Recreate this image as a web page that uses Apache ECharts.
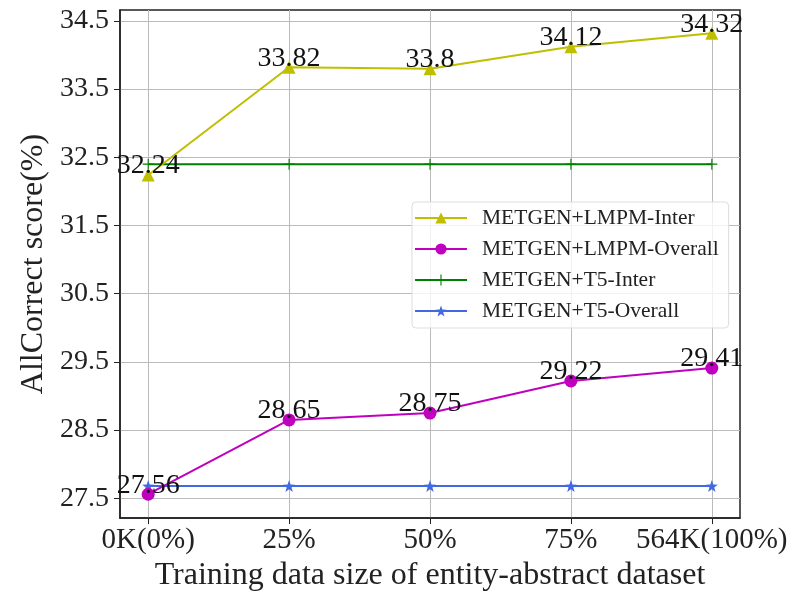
<!DOCTYPE html>
<html>
<head>
<meta charset="utf-8">
<script src="https://cdn.jsdelivr.net/npm/echarts@6/dist/echarts.min.js"></script>
<style>
  html, body { margin: 0; padding: 0; background: #fff; }
  #chart { width: 792px; height: 597px; }
</style>
</head>
<body>
<div id="chart"></div>
<script>
// 数据
var categories = ['0K(0%)', '25%', '50%', '75%', '564K(100%)'];
var lmpmInter = [32.24, 33.82, 33.8, 34.12, 34.32];
var lmpmOverall = [27.56, 28.65, 28.75, 29.22, 29.41];
var t5Inter = [32.4, 32.4, 32.4, 32.4, 32.4];
var t5Overall = [27.68, 27.68, 27.68, 27.68, 27.68];
var yTicks = [27.5, 28.5, 29.5, 30.5, 31.5, 32.5, 33.5, 34.5];

var FONT = '"Liberation Serif", "DejaVu Serif", serif';
var STAR = 'path://M0,-10 L2.35,-3.24 L9.51,-3.09 L3.8,1.24 L5.88,8.09 L0,4 L-5.88,8.09 L-3.8,1.24 L-9.51,-3.09 L-2.35,-3.24 Z';
var PLUS = 'path://M-1,-10 L1,-10 L1,-1 L10,-1 L10,1 L1,1 L1,10 L-1,10 L-1,1 L-10,1 L-10,-1 L-1,-1 Z';

function pairs(arr) {
  return arr.map(function (v, i) { return [i, v]; });
}

var myChart = echarts.init(document.getElementById('chart'));

var valueLabel = {
  show: true,
  position: 'inside',
  offset: [0, -9],
  color: '#111',
  fontFamily: FONT,
  fontSize: 28,
  formatter: function (p) { return String(p.value[1]); }
};

option = {
  animation: false,
  grid: {
    left: 120, right: 52, top: 10, bottom: 77,
    show: true, borderColor: '#222', borderWidth: 1.5
  },
  legend: {
    orient: 'vertical',
    left: 412, top: 202,
    padding: [5, 10, 6, 2],
    itemWidth: 52, itemHeight: 14, itemGap: 9,
    backgroundColor: 'rgba(255,255,255,0.8)',
    borderColor: '#ddd', borderWidth: 1, borderRadius: 4,
    textStyle: { fontFamily: FONT, fontSize: 21.5, lineHeight: 22, color: '#222', padding: [0, 0, 0, 10] },
    data: ['METGEN+LMPM-Inter', 'METGEN+LMPM-Overall', 'METGEN+T5-Inter', 'METGEN+T5-Overall']
  },
  xAxis: {
    type: 'value',
    min: -0.2, max: 4.2,
    name: 'Training data size of entity-abstract dataset',
    nameLocation: 'middle', nameGap: 39,
    nameTextStyle: { fontFamily: FONT, fontSize: 32, color: '#222' },
    axisLine: { show: true, onZero: false, lineStyle: { color: '#222', width: 1.5 } },
    axisTick: { show: true, length: 6, customValues: [0, 1, 2, 3, 4], lineStyle: { color: '#222' } },
    axisLabel: {
      customValues: [0, 1, 2, 3, 4],
      fontFamily: FONT, fontSize: 29, color: '#222', margin: 8,
      formatter: function (v) { return categories[Math.round(v)]; }
    },
    splitLine: { show: true, lineStyle: { color: '#bbb', width: 1 } }
  },
  yAxis: {
    type: 'value',
    min: 27.21, max: 34.66,
    name: 'AllCorrect score(%)',
    nameLocation: 'middle', nameGap: 68,
    nameTextStyle: { fontFamily: FONT, fontSize: 32, color: '#222' },
    axisLine: { show: true, onZero: false, lineStyle: { color: '#222', width: 1.5 } },
    axisTick: { show: true, length: 6, customValues: yTicks, lineStyle: { color: '#222' } },
    axisLabel: {
      customValues: yTicks,
      fontFamily: FONT, fontSize: 28, color: '#222', margin: 11,
      formatter: function (v) { return v.toFixed(1); }
    },
    splitLine: { show: true, lineStyle: { color: '#bbb', width: 1 } }
  },
  series: [
    {
      name: 'METGEN+LMPM-Inter', type: 'line',
      data: pairs(lmpmInter),
      symbol: 'triangle', symbolSize: 13,
      lineStyle: { color: '#bfbf00', width: 2 },
      itemStyle: { color: '#bfbf00' },
      label: valueLabel,
      z: 4
    },
    {
      name: 'METGEN+LMPM-Overall', type: 'line',
      data: pairs(lmpmOverall),
      symbol: 'circle', symbolSize: 13,
      lineStyle: { color: '#bf00bf', width: 2 },
      itemStyle: { color: '#bf00bf' },
      label: valueLabel,
      z: 4
    },
    {
      name: 'METGEN+T5-Inter', type: 'line',
      data: pairs(t5Inter),
      symbol: PLUS, symbolSize: 11,
      lineStyle: { color: '#008000', width: 2 },
      itemStyle: { color: '#008000' },
      z: 3
    },
    {
      name: 'METGEN+T5-Overall', type: 'line',
      data: pairs(t5Overall),
      symbol: STAR, symbolSize: 12,
      lineStyle: { color: '#4169e1', width: 2 },
      itemStyle: { color: '#4169e1' },
      z: 3
    }
  ]
};

if (option && typeof option === "object") {
  myChart.setOption(option, true);
}
</script>
</body>
</html>
